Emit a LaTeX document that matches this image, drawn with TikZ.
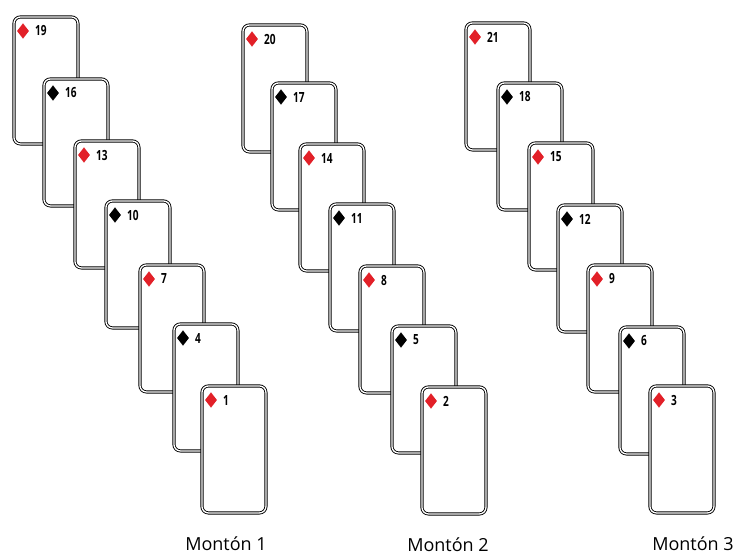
\documentclass[tikz,border=0pt]{standalone}
\usepackage{fontspec}
\setmainfont{Open Sans}
\usepackage{graphicx}
\usetikzlibrary{shapes.geometric,positioning}
\definecolor{cardred}{RGB}{226,32,40}
\tikzset{
  card/.style={draw=black,double=white,double distance=1.3pt,line width=0.9pt,
    fill=white,rounded corners=6.5pt,minimum width=64pt,minimum height=127pt,
    inner sep=0pt,anchor=north west},
  pip/.style={diamond,fill=#1,inner sep=0pt,minimum width=12pt,minimum height=15.5pt},
  pip/.default=black,
  rank/.style={font=\bfseries\fontsize{14}{14}\selectfont,inner sep=0pt,anchor=west},
  pile label/.style={font=\fontsize{18}{18}\selectfont,anchor=base},
}
\begin{document}
\begin{tikzpicture}[x=1pt,y=-1pt]
  \useasboundingbox (0,0) rectangle (736,555);
  % the three piles, each dealt from the top card down
  \foreach \n/\x/\y/\s in {19/12/15/cardred,16/42/77/black,13/73/139/cardred,
      10/104/199/black,7/138/263/cardred,4/172/322/black,1/200/384/cardred,
      20/241/23/cardred,17/270/81/black,14/298/142/cardred,11/328/202/black,
      8/358/264/cardred,5/390/324/black,2/420/385/cardred,
      21/464/21/cardred,18/496/81/black,15/527/141/cardred,12/556/203/black,
      9/586/263/cardred,6/618/325/black,3/648/384/cardred}{
    \node[card] (c\n) at (\x+1.5,\y+1.5) {};
    \node[pip=\s] (p\n) at ([shift={(9.5,14.5)}]c\n.north west) {};
    \node[rank] (r\n) at ([shift={(21.5,14.5)}]c\n.north west) {\scalebox{0.72}[1]{\n}};
  }
  \node[pile label] (m1) at (226,550) {Montón 1};
  \node[pile label] (m2) at (448,551.5) {Montón 2};
  \node[pile label] (m3) at (693,550.5) {Montón 3};
\end{tikzpicture}
\end{document}
